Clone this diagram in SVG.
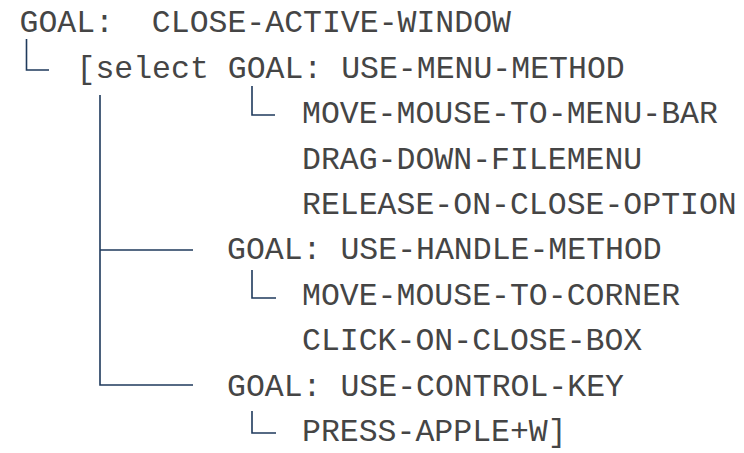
<svg xmlns="http://www.w3.org/2000/svg" width="744" height="453" viewBox="0 0 744 453">
<style>
text{font-family:"Liberation Mono","Courier New",monospace;font-size:31.5px;fill:#454545;white-space:pre}
.c{fill:none;stroke:#1f3a5c;stroke-width:1.6}
</style>
<rect width="744" height="453" fill="#fff"/>
<g id="connectors">
<path class="c" d="M26.5 39V70H49"/>
<path class="c" d="M252 86V115H275"/>
<path class="c" d="M100 95V385H193M100 250H193"/>
<path class="c" d="M252 270V298H276"/>
<path class="c" d="M252 411V433H276"/>
</g>
<g id="n1"><text x="19.5" y="32.3" xml:space="preserve">GOAL:  CLOSE-ACTIVE-WINDOW</text></g>
<g id="n2"><text x="76.5" y="77.7">[select GOAL: USE-MENU-METHOD</text></g>
<g id="n3"><text x="302" y="123.1">MOVE-MOUSE-TO-MENU-BAR</text></g>
<g id="n4"><text x="302" y="168.5">DRAG-DOWN-FILEMENU</text></g>
<g id="n5"><text x="302" y="213.9">RELEASE-ON-CLOSE-OPTION</text></g>
<g id="n6"><text x="227" y="258.5">GOAL: USE-HANDLE-METHOD</text></g>
<g id="n7"><text x="302" y="304.7">MOVE-MOUSE-TO-CORNER</text></g>
<g id="n8"><text x="302" y="350.1">CLICK-ON-CLOSE-BOX</text></g>
<g id="n9"><text x="227" y="396">GOAL: USE-CONTROL-KEY</text></g>
<g id="n10"><text x="302" y="441.3">PRESS-APPLE+W]</text></g>
</svg>
